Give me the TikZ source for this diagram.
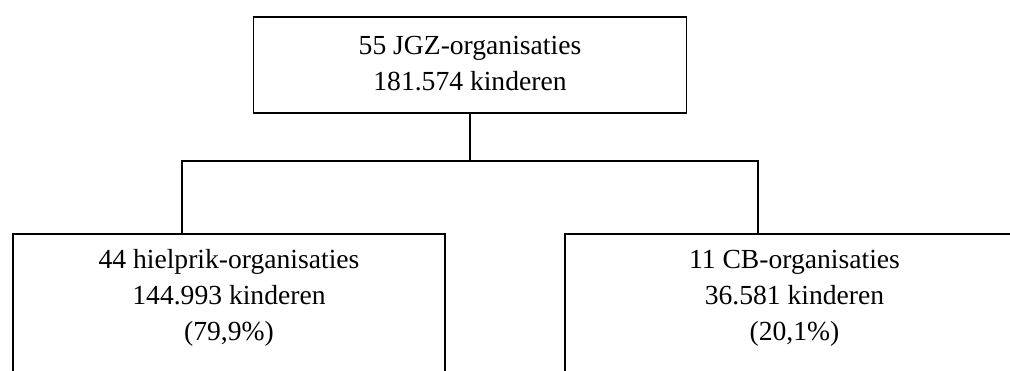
\documentclass[tikz,border=0pt]{standalone}
\usepackage{fontspec}
\setmainfont{Liberation Serif}
\usepackage{tikz}

\tikzset{
  orgbox/.style={draw, line width=0.9pt, align=center, anchor=north, inner xsep=0pt, inner ysep=0pt, font=\fontsize{13.8}{18}\selectfont},
  tak/.style={line width=0.9pt}
}

\begin{document}
\begin{tikzpicture}[x=0.5pt,y=0.5pt]
\clip (0,0) rectangle (1010,370);
\fill[white] (0,0) rectangle (1010,370);
\node[orgbox, minimum width=216.5pt, text height=37pt, text depth=11pt] (jgz) at (470,354) {55 JGZ-organisaties\\181.574 kinderen};
\node[orgbox, minimum width=216pt, text height=53.5pt, text depth=40pt] (hiel) at (229,137) {44 hielprik-organisaties\\144.993 kinderen\\(79,9\%)};
\node[orgbox, minimum width=229.5pt, text height=53.5pt, text depth=40pt] (cb) at (794.5,137) {11 CB-organisaties\\36.581 kinderen\\(20,1\%)};
\coordinate (lknee) at (182,209);
\coordinate (rknee) at (758,209);
\draw[tak] (jgz.south) -- (jgz.south |- lknee);
\draw[tak] (lknee |- hiel.north) -- (lknee) -- (rknee) -- (rknee |- cb.north);
\end{tikzpicture}
\end{document}
